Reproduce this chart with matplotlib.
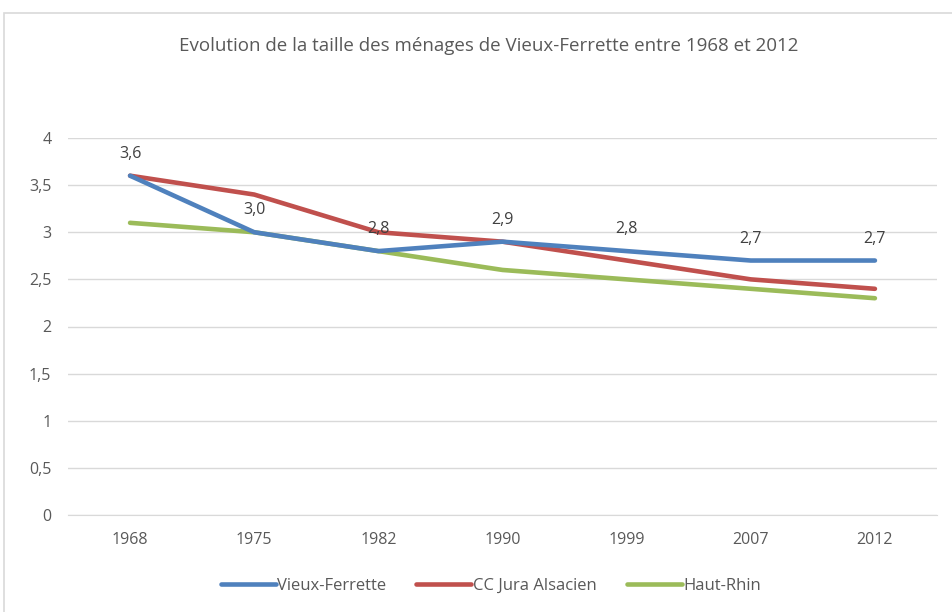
import matplotlib.pyplot as plt
from matplotlib.patches import Rectangle

plt.rcParams['font.family'] = ['Open Sans', 'DejaVu Sans']

annees = ['1968', '1975', '1982', '1990', '1999', '2007', '2012']
vieux_ferrette = [3.6, 3.0, 2.8, 2.9, 2.8, 2.7, 2.7]
cc_jura = [3.6, 3.4, 3.0, 2.9, 2.7, 2.5, 2.4]
haut_rhin = [3.1, 3.0, 2.8, 2.6, 2.5, 2.4, 2.3]

gris = '#595959'

fig = plt.figure(figsize=(9.53, 6.12), dpi=100)
ax = fig.add_axes([68/953, 1 - 515/612, (937 - 68)/953, (515 - 138)/612])

x = range(len(annees))
ax.plot(x, vieux_ferrette, color='#4f81bd', lw=3.3, solid_capstyle='round', label='Vieux-Ferrette', zorder=3)
ax.plot(x, cc_jura, color='#c0504d', lw=3.3, solid_capstyle='round', label='CC Jura Alsacien', zorder=2)
ax.plot(x, haut_rhin, color='#9bbb59', lw=3.3, solid_capstyle='round', label='Haut-Rhin', zorder=1)

for i, v in enumerate(vieux_ferrette):
    ax.annotate(f'{v:.1f}'.replace('.', ','), (i, v), xytext=(0, 10), textcoords='offset points',
                ha='center', va='bottom', fontsize=11.5, color='#404040')

ax.set_xlim(-0.5, len(annees) - 0.5)
ax.set_ylim(0, 4)
ax.set_xticks(list(x))
ax.set_xticklabels(annees)
yt = [0, 0.5, 1, 1.5, 2, 2.5, 3, 3.5, 4]
ax.set_yticks(yt)
ax.set_yticklabels([f'{t:g}'.replace('.', ',') for t in yt])
ax.tick_params(length=0, colors=gris, labelsize=11.5, pad=12)
ax.tick_params(axis='x', pad=12)
ax.grid(axis='y', color='#d9d9d9', lw=1)
ax.set_axisbelow(True)
for s in ['top', 'right', 'left']:
    ax.spines[s].set_visible(False)
ax.spines['bottom'].set_color('#d9d9d9')

fig.text(489/953, 1 - 46/612, 'Evolution de la taille des ménages de Vieux-Ferrette entre 1968 et 2012',
         ha='center', va='center', fontsize=13.5, color=gris)

fig.legend(loc='center', bbox_to_anchor=(491/953, 1 - 586/612), ncol=3, frameon=False,
           fontsize=12, labelcolor=gris, handlelength=3.3, handletextpad=0.1, columnspacing=1.8)

fig.patches.append(Rectangle((4/953, -0.01), 1, 1 - 13/612 + 0.01, transform=fig.transFigure,
                             fill=False, edgecolor='#d9d9d9', lw=1.2))

fig.savefig('out.png', dpi=100)
